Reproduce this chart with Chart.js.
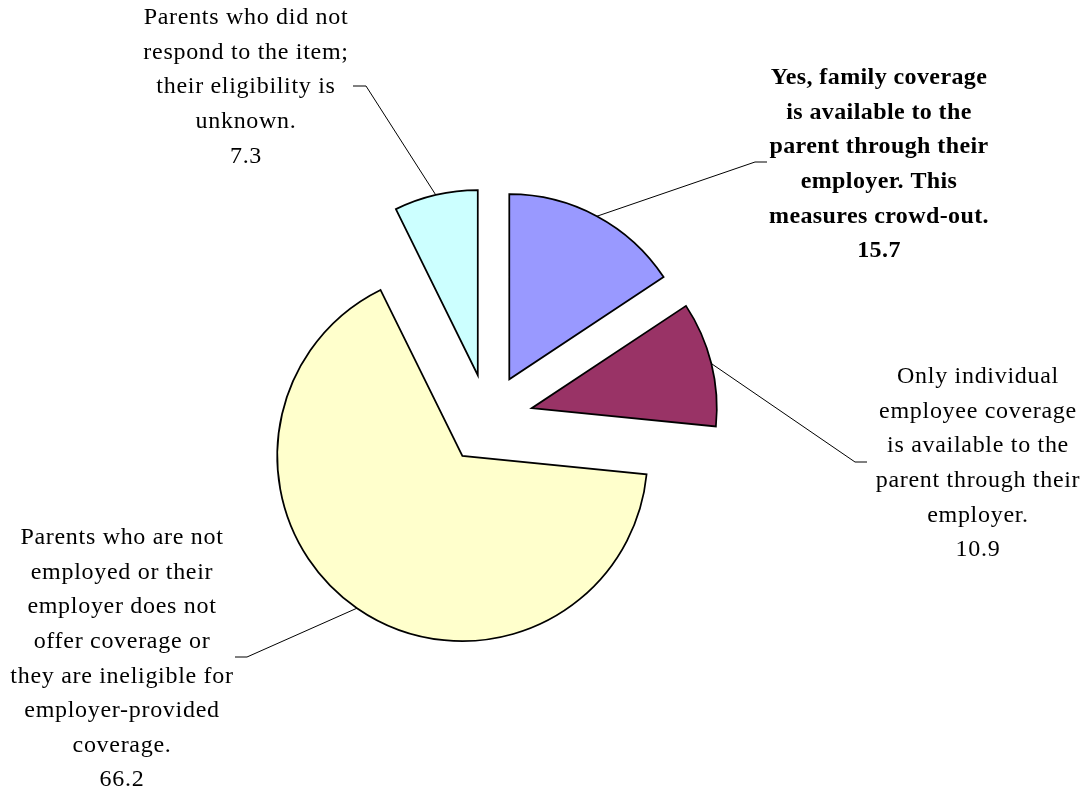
<!DOCTYPE html>
<html>
<head>
<meta charset="utf-8">
<script src="https://cdn.jsdelivr.net/npm/chart.js@4.4.1/dist/chart.umd.min.js"></script>
<style>
  html, body { margin: 0; padding: 0; background: #fff; }
</style>
</head>
<body>
<canvas id="pieChart" width="1091" height="790"></canvas>
<script>
// slice categories, already wrapped the way the labels show them
const categories = [
  ['Yes, family coverage', 'is available to the', 'parent through their', 'employer. This', 'measures crowd-out.'],
  ['Only individual', 'employee coverage', 'is available to the', 'parent through their', 'employer.'],
  ['Parents who are not', 'employed or their', 'employer does not', 'offer coverage or', 'they are ineligible for', 'employer-provided', 'coverage.'],
  ['Parents who did not', 'respond to the item;', 'their eligibility is', 'unknown.']
];
const shares = [15.7, 10.9, 66.2, 7.3];
const sliceColors = ['#9999FF', '#993366', '#FFFFCC', '#CCFFFF'];
const boldLabel = [true, false, false, false];

// where each label block sits and where its leader line ends
const labelSpots = [
  { x: 879, y: 78,  elbow: [755, 162], end: [767, 162] },
  { x: 978, y: 377, elbow: [855, 462], end: [867, 462] },
  { x: 122, y: 538, elbow: [247, 657], end: [235, 657] },
  { x: 246, y: 18,  elbow: [366, 86],  end: [353, 86] }
];

const EXPLODE = 45;

// pull every slice away from the centre along its middle angle
const explodePlugin = {
  id: 'explode',
  beforeDatasetDraw(chart, args) {
    const ctx = chart.ctx;
    args.meta.data.forEach(arc => {
      const mid = (arc.startAngle + arc.endAngle) / 2;
      ctx.save();
      ctx.translate(Math.cos(mid) * EXPLODE, Math.sin(mid) * EXPLODE);
      arc.draw(ctx);
      ctx.restore();
    });
    return false;
  }
};

const labelPlugin = {
  id: 'sliceLabels',
  afterDraw(chart) {
    const ctx = chart.ctx;
    const arcs = chart.getDatasetMeta(0).data;
    ctx.save();
    arcs.forEach((arc, i) => {
      const spot = labelSpots[i];
      const mid = (arc.startAngle + arc.endAngle) / 2;
      const r = EXPLODE + arc.outerRadius;
      ctx.beginPath();
      ctx.moveTo(arc.x + Math.cos(mid) * r, arc.y + Math.sin(mid) * r);
      ctx.lineTo(spot.elbow[0], spot.elbow[1]);
      ctx.lineTo(spot.end[0], spot.end[1]);
      ctx.strokeStyle = '#000';
      ctx.lineWidth = 1;
      ctx.stroke();

      const lines = categories[i].concat(shares[i].toFixed(1));
      ctx.fillStyle = '#000';
      ctx.font = (boldLabel[i] ? 'bold ' : '') + '24px "Liberation Serif", "Times New Roman", serif';
      ctx.letterSpacing = boldLabel[i] ? '0.4px' : '0.7px';
      ctx.textAlign = 'center';
      ctx.textBaseline = 'middle';
      lines.forEach((t, k) => ctx.fillText(t, spot.x, spot.y + k * 34.6));
    });
    ctx.restore();
  }
};

new Chart(document.getElementById('pieChart'), {
  type: 'pie',
  data: {
    labels: categories.map(c => c.join(' ')),
    datasets: [{
      data: shares,
      backgroundColor: sliceColors,
      borderColor: '#000',
      borderWidth: 1.75,
      hoverBorderWidth: 1.75,
      hoverOffset: 0,
      offset: 0,
      borderJoinStyle: 'miter'
    }]
  },
  options: {
    responsive: false,
    animation: false,
    events: [],
    layout: {
      padding: { top: 233, bottom: 185, left: 200, right: 315 }
    },
    plugins: {
      legend: { display: false },
      tooltip: { enabled: false }
    }
  },
  plugins: [explodePlugin, labelPlugin]
});
</script>
</body>
</html>
